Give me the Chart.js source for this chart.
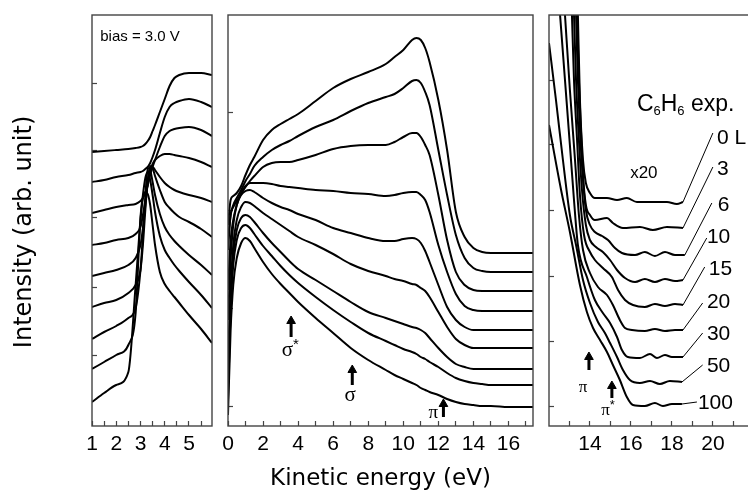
<!DOCTYPE html>
<html><head><meta charset="utf-8">
<script src="https://cdn.jsdelivr.net/npm/chart.js@4.4.1/dist/chart.umd.min.js"></script>
<style>
html,body{margin:0;padding:0;background:#fff;overflow:hidden;width:748px;height:493px;}
canvas{position:absolute;left:0;top:0;}
</style></head><body>
<canvas id="cL" width="748" height="493"></canvas>
<canvas id="cM" width="748" height="493"></canvas>
<canvas id="cR" width="770" height="493"></canvas>
<script>
// ---------- categories ----------
const exposures = ['0 L','3','6','10','15','20','30','50','100'];

// ---------- left panel (bias = 3.0 V) ----------
const leftX = [1, 1.5, 2, 2.5, 2.8, 3.0, 3.1, 3.2, 3.3, 3.4, 3.5, 3.6, 3.8, 4.0, 4.2, 4.4, 4.6, 5.0, 5.5, 5.95];
const L_0   = [274,275,276,277,278,279,280,282,285,289,295,301,314,327,340,348,351,353,353,351];
const L_3   = [244,246,249,251,253,254,255,257,259,263,269,276,293,309,319,323,325,327,324,319];
const L_6   = [213,216,219,221,222,225,228,233,241,251,259,266,279,290,295,297,298,299,296,290];
const L_10  = [181,183,186,188,192,199,211,226,242,255,262,266,270,272,272,271,270,268,264,259];
const L_15  = [150,153,156,161,168,181,198,221,243,256,259,256,249,243,239,236,234,231,228,224];
const L_20  = [119,123,126,133,141,156,181,216,246,260,258,250,236,224,218,213,209,204,197,189];
const L_30  = [87,94,100,108,118,156,191,229,258,256,244,231,212,199,191,185,180,171,161,151];
const L_50  = [57,64,71,81,113,209,231,248,254,246,231,214,190,176,168,161,155,144,131,118];
const L_100 = [24,33,41,54,141,206,228,234,232,221,201,181,154,142,135,129,123,111,97,83];

// ---------- middle panel ----------
const midX = [0,0.15,0.3,0.5,0.75,1,1.25,1.5,2,2.5,3,3.5,4,5,6,7,8,9,9.5,10,10.5,10.75,11,11.25,11.5,12,12.5,13,13.5,14,14.5,15,16,17.4];
const M_0   = [201,226,230,233,240,251,261,269,286,296,302,307,312,325,338,347,354,362,369,376,386,388,386,378,364,326,276,214,189,178,174,173,173,173];
const M_3   = [186,211,221,228,236,245,252,260,269,276,281,285,290,299,306,315,323,329,332,338,345,346,343,334,321,276,231,191,168,158,155,154,154,154];
const M_6   = [176,211,219,225,232,239,245,250,259,263,264,264,266,271,277,280,281,281,284,289,293,293,289,281,271,231,186,154,141,136,135,135,135,135];
const M_10  = [136,186,206,221,233,240,243,243,243,242,240,239,238,236,235,233,232,230,231,233,234,234,231,226,214,181,154,132,120,116,115,115,115,115];
const M_15  = [106,166,201,221,231,235,236,234,228,223,219,216,212,206,198,193,188,185,185,187,188,187,183,175,164,141,119,106,99,96,96,96,96,96];
const M_20  = [66,136,181,206,219,224,223,220,213,207,201,195,189,181,172,162,155,150,147,145,142,141,138,135,129,114,99,87,81,78,78,78,78,78];
const M_30  = [46,126,171,196,208,211,209,204,193,183,174,165,157,146,135,124,114,108,105,102,99,98,96,93,88,78,69,62,59,57,57,57,57,57];
const M_50  = [26,116,161,186,198,201,198,192,180,170,160,151,143,129,116,104,93,85,81,77,74,72,69,67,64,59,53,48,45,43,42,41,41,41];
const M_100 = [11,96,141,168,183,188,185,178,164,152,142,133,124,108,93,78,66,56,51,47,43,41,38,36,34,31,27,24,22,21,20,20,19,19];

// ---------- right panel (x20) ----------
const R_0x = [13.41,13.51,13.66,13.80,14.00,14.24,14.83,15.32,15.80,16.29,16.93,17.76,18.24,18.54];
const R_0y = [411,326,266,243,233,228,228,226,228,224,224,224,222,224];
const R_3x = [13.37,13.46,13.56,13.66,13.80,14.00,14.24,14.83,15.12,15.61,16.44,17.07,17.76,18.54];
const R_3y = [411,346,296,251,221,211,206,208,203,198,199,196,199,198];
const R_6x = [13.32,13.41,13.51,13.66,13.80,14.00,14.24,14.59,14.88,15.22,15.56,16.20,16.68,17.17,17.66,18.15,18.63];
const R_6y = [411,346,296,246,216,201,194,190,186,178,173,171,174,170,174,171,171];
const R_10x = [13.22,13.32,13.46,13.61,13.80,14.00,14.29,14.63,14.98,15.32,15.71,16.20,16.68,17.17,17.66,18.15,18.54];
const R_10y = [411,346,286,236,201,186,179,174,166,156,148,144,147,144,147,145,146];
const R_15x = [13.12,13.22,13.37,13.51,13.71,14.00,14.24,14.63,15.07,15.37,15.71,16.10,16.68,17.17,17.66,18.15,18.54];
const R_15y = [411,346,286,231,191,174,166,158,149,136,126,121,119,122,120,122,121];
const R_20x = [12.78,13.02,13.27,13.46,13.66,14.00,14.39,14.83,15.12,15.46,15.71,16.05,16.68,17.17,17.66,18.15,18.54];
const R_20y = [411,336,266,211,176,153,139,131,121,106,98,96,95,97,95,96,96];
const R_30x = [12.54,12.78,13.02,13.22,13.41,13.85,14.24,14.63,14.98,15.32,15.56,15.85,16.44,16.93,17.27,17.66,18.00,18.54];
const R_30y = [411,346,281,226,181,149,126,113,103,89,76,69,68,72,68,71,69,69];
const R_50x = [12.00,12.34,12.68,13.02,13.32,13.66,14.00,14.39,14.73,14.98,15.32,15.61,15.95,16.44,16.93,17.41,17.90,18.49];
const R_50y = [383,326,266,211,181,146,123,104,93,83,69,56,46,43,45,42,45,44];
const R_100x = [12.00,12.59,13.02,13.51,13.85,14.15,14.49,14.83,15.12,15.46,15.80,16.10,16.68,17.17,17.56,18.00,18.49];
const R_100y = [301,236,194,141,114,98,86,74,61,46,29,21,20,23,20,22,22];

// exposure labels and leader lines (right panel)
const labelX = [20.20,20.20,20.24,19.71,19.80,19.71,19.71,19.71,19.27];
const labelY = [288,257,221,189,157,124,92,60,23];
const leadX0 = [18.54,18.54,18.63,18.54,18.54,18.54,18.54,18.49,18.49];
const leadY0 = [224,198,171,146,121,96,69,44,22];
const leadX1 = [20.0,20.0,19.95,19.7,19.6,19.5,19.5,19.5,19.22];
const leadY1 = [293,259,223,188,159,123,93,61,24];

// arrows + peak labels
const midArrowX  = [3.6, 7.09, 12.29];
const midArrowLo = [89, 41, 9];
const midArrowHi = [105, 56, 22];
const midNoteX = [3.55, 6.97, 11.71];
const midNoteY = [76, 31, 13];
const rightArrowX  = [13.95, 15.07];
const rightArrowLo = [56, 28];
const rightArrowHi = [69, 40];
const rightNoteX = [13.66, 14.88];
const rightNoteY = [38, 15];

// ticks
const leftXTicks = [1,1.5,2,2.5,3,3.5,4,4.5,5,5.5];
const leftXLabels = [1,2,3,4,5];
const midXTicks = [0,1,2,3,4,5,6,7,8,9,10,11,12,13,14,15,16,17];
const midXLabels = [0,2,4,6,8,10,12,14,16];
const rightXTicks = [13,14,15,16,17,18,19,20,21,22];
const rightXLabels = [14,16,18,20];
const leftYTicks = [71,139,208,276,343];
const midYTicks = [20,118,216,314];
const rightYTicks = [20,85,150,216,281,346];

// ---------- drawing ----------
const FONT = "'Liberation Sans', Arial, Helvetica, sans-serif";
const SERIF = "'Liberation Serif', 'Times New Roman', serif";
const TFONT = "'DejaVu Sans', sans-serif";
const AXIS = '#444';

const notesPlugin = {
  id: 'notes',
  afterDatasetsDraw(chart, args, opts) {
    const ctx = chart.ctx, xs = chart.scales.x, ys = chart.scales.y;
    for (const it of (opts.items || [])) {
      const parts = it.parts || [{t: it.text, size: it.size, family: it.family}];
      ctx.save();
      ctx.fillStyle = '#000';
      ctx.textBaseline = 'middle';
      ctx.textAlign = 'left';
      let total = 0;
      const widths = parts.map(p => {
        ctx.font = p.size + 'px ' + (p.family || FONT);
        const w = ctx.measureText(p.t).width; total += w; return w;
      });
      let px = xs.getPixelForValue(it.x);
      if (it.align === 'center') px -= total / 2;
      const py = ys.getPixelForValue(it.y);
      parts.forEach((p, i) => {
        ctx.font = p.size + 'px ' + (p.family || FONT);
        ctx.fillText(p.t, px, py + (p.dy || 0));
        px += widths[i];
      });
      ctx.restore();
    }
  }
};
const framePlugin = {
  id: 'frame',
  afterDraw(chart) {
    const {ctx, chartArea: a} = chart;
    ctx.save();
    ctx.strokeStyle = AXIS; ctx.lineWidth = 1.4;
    ctx.strokeRect(a.left, a.top, a.right - a.left, a.bottom - a.top);
    ctx.restore();
  }
};

function curve(xs, ys) {
  return { data: xs.map((x, i) => ({x: x, y: ys[i]})), borderColor: '#000', borderWidth: 2,
           pointRadius: 0, fill: false, cubicInterpolationMode: 'monotone' };
}
function arrow(x, lo, hi) {
  return { data: [{x: x, y: lo}, {x: x, y: hi}], borderColor: '#000', borderWidth: 3,
           pointRadius: [0, 5], pointStyle: 'triangle', pointBackgroundColor: '#000',
           pointBorderColor: '#000', pointBorderWidth: 1, tension: 0 };
}
function leader(x0, y0, x1, y1) {
  return { data: [{x: x0, y: y0}, {x: x1, y: y1}], borderColor: '#000', borderWidth: 1,
           pointRadius: 0, tension: 0 };
}

function makeChart(id, datasets, o) {
  return new Chart(document.getElementById(id), {
    type: 'line',
    data: { datasets: datasets },
    options: {
      responsive: false, animation: false, devicePixelRatio: 1, events: [],
      layout: { padding: o.padding, autoPadding: false },
      plugins: { legend: {display: false}, tooltip: {enabled: false}, notes: {items: o.notes} },
      scales: {
        x: {
          type: 'linear', position: 'bottom', min: o.xMin, max: o.xMax,
          afterBuildTicks: s => { s.ticks = o.xTicks.map(v => ({value: v})); },
          afterFit: s => { s.height = 67; },
          grid: { display: true, drawOnChartArea: false, drawTicks: true, tickLength: -5, tickWidth: 1.2, tickColor: AXIS },
          border: { display: false },
          ticks: { autoSkip: false, maxRotation: 0, padding: 11, color: '#000', font: {family: FONT, size: 21},
                   callback: v => o.xLabels.includes(v) ? String(v) : '' },
          title: o.xTitle ? { display: true, text: o.xTitle, color: '#000', font: {family: TFONT, size: 23}, padding: {top: 0, bottom: 0} } : { display: false }
        },
        y: {
          type: 'linear', position: 'left', min: 0, max: 411,
          afterBuildTicks: s => { s.ticks = o.yTicks.map(v => ({value: v})); },
          afterFit: s => { s.width = o.yWidth; },
          grid: { display: true, drawOnChartArea: false, drawTicks: true, tickLength: -5, tickWidth: 1.2, tickColor: AXIS },
          border: { display: false },
          ticks: { display: false },
          title: o.yTitle ? { display: true, text: o.yTitle, color: '#000', font: {family: TFONT, size: 24}, padding: {top: 10, bottom: 0} } : { display: false }
        }
      }
    },
    plugins: [notesPlugin, framePlugin]
  });
}

// left
makeChart('cL', [L_0, L_3, L_6, L_10, L_15, L_20, L_30, L_50, L_100].map(ys => curve(leftX, ys)), {
  padding: {left: 0, right: 536, top: 15, bottom: 0},
  xMin: 1, xMax: 5.95, xTicks: leftXTicks, xLabels: leftXLabels,
  yTicks: leftYTicks, yWidth: 92, yTitle: 'Intensity (arb. unit)\u00a0\u00a0\u00a0',
  notes: [{text: 'bias = 3.0 V', size: 15, x: 1.34, y: 389}]
});

// middle
const midSets = [M_0, M_3, M_6, M_10, M_15, M_20, M_30, M_50, M_100].map(ys => curve(midX, ys));
midArrowX.forEach((x, i) => midSets.push(arrow(x, midArrowLo[i], midArrowHi[i])));
makeChart('cM', midSets, {
  padding: {left: 228, right: 215, top: 15, bottom: 0},
  xMin: 0, xMax: 17.4, xTicks: midXTicks, xLabels: midXLabels, xTitle: 'Kinetic energy (eV)',
  yTicks: midYTicks, yWidth: 0,
  notes: [
    {x: midNoteX[0], y: midNoteY[0], align: 'center', parts: [{t: 'σ', size: 21, family: SERIF}, {t: '*', size: 15, dy: -5}]},
    {x: midNoteX[1], y: midNoteY[1], align: 'center', parts: [{t: 'σ', size: 21, family: SERIF}]},
    {x: midNoteX[2], y: midNoteY[2], align: 'center', parts: [{t: 'π', size: 19, family: SERIF}]}
  ]
});

// right
const rightSets = [[R_0x,R_0y],[R_3x,R_3y],[R_6x,R_6y],[R_10x,R_10y],[R_15x,R_15y],[R_20x,R_20y],[R_30x,R_30y],[R_50x,R_50y],[R_100x,R_100y]]
  .map(p => curve(p[0], p[1]));
exposures.forEach((e, i) => rightSets.push(leader(leadX0[i], leadY0[i], leadX1[i], leadY1[i])));
rightArrowX.forEach((x, i) => rightSets.push(arrow(x, rightArrowLo[i], rightArrowHi[i])));
const rightNotes = exposures.map((e, i) => ({text: e, size: 21, x: labelX[i], y: labelY[i]}));
rightNotes.push({x: 16.63, y: 253, align: 'center', text: 'x20', size: 17});
rightNotes.push({x: 16.29, y: 321, parts: [
  {t: 'C', size: 23}, {t: '6', size: 13, dy: 6}, {t: 'H', size: 23}, {t: '6', size: 13, dy: 6}, {t: ' exp.', size: 23}]});
rightNotes.push({x: rightNoteX[0], y: rightNoteY[0], align: 'center', parts: [{t: 'π', size: 17, family: SERIF}]});
rightNotes.push({x: rightNoteX[1], y: rightNoteY[1], align: 'center', parts: [{t: 'π', size: 17, family: SERIF}, {t: '*', size: 13, dy: -6}]});
makeChart('cR', rightSets, {
  padding: {left: 549, right: 10, top: 15, bottom: 0},
  xMin: 12, xMax: 22.3, xTicks: rightXTicks, xLabels: rightXLabels,
  yTicks: rightYTicks, yWidth: 0,
  notes: rightNotes
});
</script>
</body></html>
